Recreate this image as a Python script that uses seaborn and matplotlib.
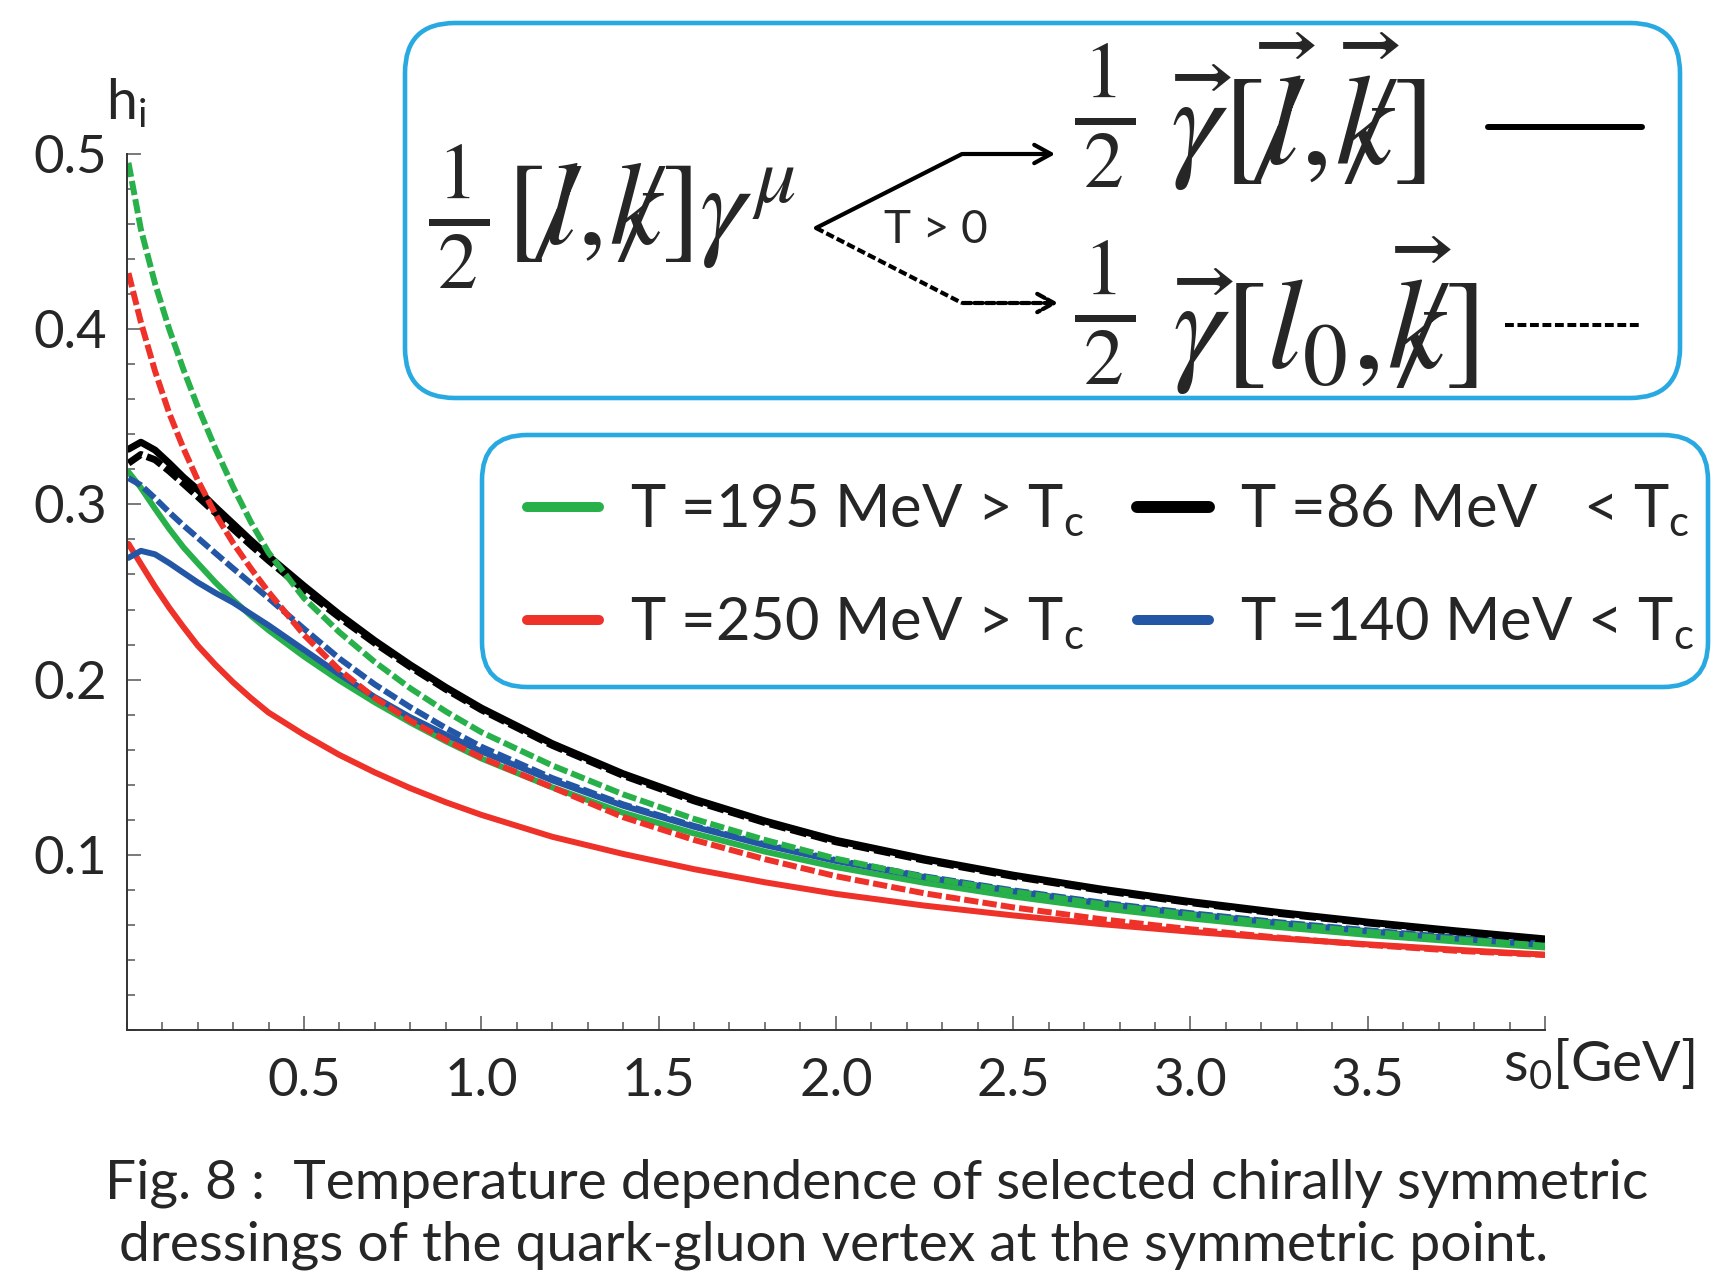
import matplotlib
matplotlib.use('Agg')
import matplotlib.pyplot as plt
import seaborn as sns
from matplotlib.lines import Line2D
from matplotlib.patches import FancyBboxPatch, FancyArrowPatch
from matplotlib.ticker import MultipleLocator

# values (s0 in GeV, dressing h_i)
s0 = [0.005, 0.04, 0.08, 0.12, 0.16, 0.2, 0.25, 0.3, 0.35, 0.4, 0.5, 0.6, 0.7,
      0.8, 0.9, 1.0, 1.2, 1.4, 1.6, 1.8, 2.0, 2.25, 2.5, 2.75, 3.0, 3.25, 3.5,
      3.75, 4.0]

# solid: (1/2) gamma_vec [l_vec, k_vec]
h195_solid = [0.3185, 0.3095, 0.2975, 0.286, 0.2755, 0.2665, 0.2555, 0.2455, 0.2365, 0.2282,
              0.2132, 0.1995, 0.1870, 0.1755, 0.1648, 0.1550, 0.1385, 0.1240, 0.1122, 0.1018,
              0.0930, 0.0840, 0.0762, 0.0695, 0.0637, 0.0587, 0.0543, 0.0505, 0.0471]
h250_solid = [0.2775, 0.266, 0.253, 0.241, 0.230, 0.2195, 0.2085, 0.1985, 0.1895, 0.1812,
              0.1685, 0.1570, 0.1470, 0.1380, 0.1300, 0.1228, 0.1103, 0.1005, 0.0918, 0.0843,
              0.0777, 0.0710, 0.0654, 0.0604, 0.0561, 0.0523, 0.0489, 0.0458, 0.0430]
h86_solid = [0.3315, 0.3355, 0.3310, 0.3235, 0.3155, 0.3085, 0.2985, 0.2890, 0.2795, 0.2705,
             0.2535, 0.2372, 0.2222, 0.2084, 0.1956, 0.1838, 0.1635, 0.1463, 0.1318, 0.1193,
             0.1083, 0.0977, 0.0884, 0.0804, 0.0733, 0.0671, 0.0616, 0.0566, 0.0520]
h140_solid = [0.2695, 0.2735, 0.2715, 0.2665, 0.2610, 0.2555, 0.2495, 0.2440, 0.2375, 0.2310,
              0.2170, 0.2030, 0.1900, 0.1785, 0.1685, 0.1590, 0.1425, 0.1280, 0.1160, 0.1055,
              0.0965, 0.0872, 0.0792, 0.0722, 0.0662, 0.0610, 0.0564, 0.0522, 0.0485]

# dashed: (1/2) gamma_vec [l_0, k_vec]
h195_dash = [0.495, 0.457, 0.426, 0.400, 0.377, 0.356, 0.332, 0.310, 0.290, 0.2725,
             0.2465, 0.2270, 0.2100, 0.1950, 0.1818, 0.1700, 0.1510, 0.1345, 0.1205, 0.1085,
             0.0978, 0.0872, 0.0790, 0.0718, 0.0658, 0.0606, 0.0560, 0.0518, 0.0481]
h250_dash = [0.432, 0.404, 0.376, 0.352, 0.332, 0.314, 0.2945, 0.278, 0.2635, 0.250,
             0.2255, 0.2055, 0.1895, 0.1765, 0.1655, 0.1555, 0.1385, 0.1215, 0.1085, 0.0975,
             0.0878, 0.0780, 0.0700, 0.0632, 0.0575, 0.0527, 0.0486, 0.0452, 0.0428]
h86_dash = [0.3235, 0.3285, 0.3255, 0.3190, 0.3118, 0.3045, 0.2952, 0.2860, 0.2768, 0.2680,
            0.2512, 0.2355, 0.2208, 0.2072, 0.1945, 0.1828, 0.1625, 0.1453, 0.1308, 0.1184,
            0.1074, 0.0969, 0.0877, 0.0797, 0.0727, 0.0665, 0.0611, 0.0561, 0.0515]
h140_dash = [0.315, 0.311, 0.3035, 0.2955, 0.2880, 0.2810, 0.2722, 0.2635, 0.2550, 0.2465,
             0.2290, 0.2120, 0.1972, 0.1842, 0.1724, 0.1617, 0.1438, 0.1288, 0.1165, 0.1060,
             0.0970, 0.0877, 0.0797, 0.0727, 0.0667, 0.0615, 0.0569, 0.0527, 0.0490]

legend_labels = [r'T =195 MeV > T$_\mathrm{c}$', r'T =250 MeV > T$_\mathrm{c}$',
                 r'T =86 MeV   < T$_\mathrm{c}$', r'T =140 MeV < T$_\mathrm{c}$']
xtick_vals = [0.5, 1.0, 1.5, 2.0, 2.5, 3.0, 3.5, 4.0]
xtick_text = ['0.5', '1.0', '1.5', '2.0', '2.5', '3.0', '3.5', '']
ytick_vals = [0.1, 0.2, 0.3, 0.4, 0.5]
ytick_text = ['0.1', '0.2', '0.3', '0.4', '0.5']

GREEN, RED, BLUE, BLACK = '#28B04A', '#EE3129', '#2356A5', '#000000'
CYAN = '#29A9E1'
SLASH = '\u0338'  # combining long solidus (Feynman slash)

sns.set_style('ticks')
plt.rcParams['font.family'] = ['Lato', 'DejaVu Sans']
plt.rcParams['mathtext.fontset'] = 'custom'
plt.rcParams['mathtext.rm'] = 'Lato'
plt.rcParams['mathtext.it'] = 'Lato:italic'

W, H = 1730, 1276
fig = plt.figure(figsize=(W / 100, H / 100), dpi=100)
ax = fig.add_axes([126.7 / W, 1 - 1030 / H, (1545 - 126.7) / W, (1030 - 154) / H])


def inch(x, y):
    # reference pixel position -> figure inches
    return x / 100, (H - y) / 100


dash = (2.4, 0.7)
curves = [(h250_solid, RED, None, 4.3), (h195_solid, GREEN, None, 4.3),
          (h140_solid, BLUE, None, 4.3), (h86_solid, BLACK, None, 5.0),
          (h140_dash, BLUE, dash, 4.3), (h86_dash, BLACK, dash, 5.0),
          (h250_dash, RED, dash, 4.3), (h195_dash, GREEN, dash, 4.3)]
for vals, col, ds, lw in curves:
    kw = {} if ds is None else {'dashes': ds}
    sns.lineplot(x=s0, y=vals, color=col, linewidth=lw, ax=ax, legend=False, **kw)

ax.set_xlim(0, 4.0)
ax.set_ylim(0, 0.5)
ax.set_xticks(xtick_vals)
ax.set_xticklabels(xtick_text)
ax.set_yticks(ytick_vals)
ax.set_yticklabels(ytick_text)
ax.xaxis.set_minor_locator(MultipleLocator(0.1))
ax.yaxis.set_minor_locator(MultipleLocator(0.02))
ax.tick_params(which='both', direction='in', color='#555555', width=1.1)
ax.tick_params(which='major', length=10)
ax.tick_params(which='minor', length=6)
ax.tick_params(axis='x', which='major', pad=20, labelsize=38)
ax.tick_params(axis='y', which='major', pad=14, labelsize=38)
sns.despine(ax=ax)
for sp in ['left', 'bottom']:
    ax.spines[sp].set_linewidth(1.4)
    ax.spines[sp].set_color('#333333')

ax.set_ylabel(r'h$_\mathrm{i}$', rotation=0, fontsize=40, ha='center', va='center')
ax.yaxis.set_label_coords(0.0, 1.058)
ax.set_xlabel(r's$_\mathrm{0}$[GeV]', fontsize=41, ha='center', va='center')
ax.xaxis.set_label_coords(1.038, -0.039)

# legend box
handles = [Line2D([], [], color=GREEN, lw=7.2), Line2D([], [], color=RED, lw=7.2),
           Line2D([], [], color=BLACK, lw=8.6), Line2D([], [], color=BLUE, lw=7.2)]
x0, y0 = inch(482, 687)
x1, y1 = inch(1708, 435)
fig.add_artist(FancyBboxPatch((x0, y0), x1 - x0, y1 - y0,
                              boxstyle='round,pad=0,rounding_size=0.45',
                              transform=fig.dpi_scale_trans, fill=False,
                              ec=CYAN, lw=3.3))
ax.legend(handles, legend_labels, ncol=2, loc='upper left',
          bbox_to_anchor=(527 / W, 1 - 483 / H), bbox_transform=fig.transFigure,
          frameon=False, fontsize=43, handlelength=1.2, handletextpad=0.52,
          columnspacing=0.9, labelspacing=0.94, borderpad=0, borderaxespad=0)

# formula box
x0, y0 = inch(405, 398)
x1, y1 = inch(1680, 23)
fig.add_artist(FancyBboxPatch((x0, y0), x1 - x0, y1 - y0,
                              boxstyle='round,pad=0,rounding_size=0.5',
                              transform=fig.dpi_scale_trans, fill=False,
                              ec=CYAN, lw=3.3))
tr = fig.dpi_scale_trans
half = r'$\frac{\,1\,}{\,2\,}$'
for px, py in [(428, 216), (1074, 115), (1074, 312)]:
    fig.text(*inch(px, py), half, transform=tr, fontsize=82,
             math_fontfamily='stix', ha='left', va='center')
fig.text(*inch(506, 215), '$[l' + SLASH + r',\!k' + SLASH + r']\gamma^{\mu}$',
         transform=tr, fontsize=84, math_fontfamily='stix', ha='left', va='center')
fig.text(*inch(1170, 112), r'$\vec{\gamma}[\vec{l}' + SLASH + r',\!\vec{k}' + SLASH + ']$',
         transform=tr, fontsize=92, math_fontfamily='stix', ha='left', va='center')
fig.text(*inch(1172, 316), r'$\vec{\gamma}[l_{0},\!\vec{k}' + SLASH + ']$',
         transform=tr, fontsize=92, math_fontfamily='stix', ha='left', va='center')
fig.text(*inch(884, 230), 'T > 0', transform=tr, fontsize=33, ha='left', va='center')

# branching arrows
fig.add_artist(Line2D(*zip(inch(816, 228), inch(962, 154)), transform=tr,
                      color='black', lw=3.0))
fig.add_artist(Line2D(*zip(inch(816, 228), inch(962, 303)), transform=tr,
                      color='black', lw=3.0, dashes=(2.0, 0.8)))
fig.add_artist(FancyArrowPatch(inch(960, 154), inch(1058, 154), transform=tr,
                               arrowstyle='->,head_length=0.6,head_width=0.33',
                               mutation_scale=20, color='black', lw=3.0))
fig.add_artist(FancyArrowPatch(inch(960, 303), inch(1061, 303), transform=tr,
                               arrowstyle='->,head_length=0.6,head_width=0.33',
                               mutation_scale=20, color='black', lw=3.0,
                               linestyle=(0, (2.0, 0.8))))
fig.add_artist(Line2D(*zip(inch(1488, 127), inch(1642, 127)), transform=tr,
                      color='black', lw=4.3))
fig.add_artist(Line2D(*zip(inch(1505, 325), inch(1642, 325)), transform=tr,
                      color='black', lw=2.9, dashes=(2.2, 0.9)))

# caption
fig.text(*inch(105, 1199), 'Fig. 8 :  Temperature dependence of selected chirally symmetric',
         transform=tr, fontsize=39.7, ha='left', va='baseline')
fig.text(*inch(119, 1261), 'dressings of the quark-gluon vertex at the symmetric point.',
         transform=tr, fontsize=39.7, ha='left', va='baseline')

fig.savefig('out.png', dpi=100)
